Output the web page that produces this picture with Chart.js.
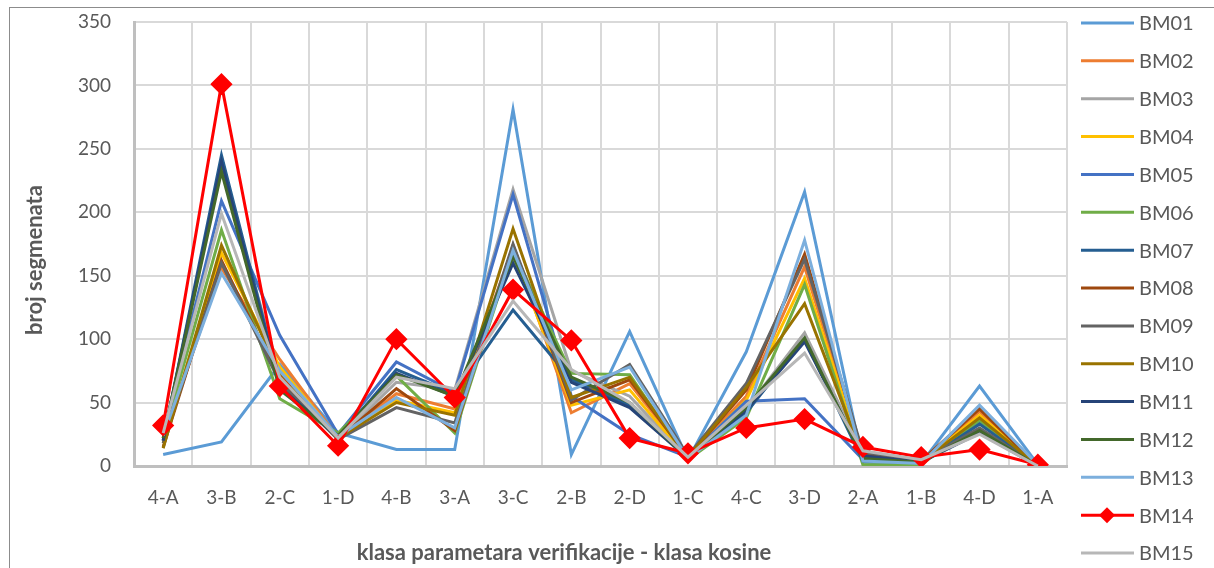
<!DOCTYPE html>
<html>
<head>
<meta charset="utf-8">
<script src="https://cdn.jsdelivr.net/npm/chart.js@4"></script>
<style>
  html, body { margin: 0; padding: 0; background: #fff; }
  #wrap { position: relative; width: 1214px; height: 568px; }
  #frame { position: absolute; left: 9px; top: 7px; right: -2px; bottom: -2px; border-left: 1px solid #8c8c8c; border-top: 1px solid #8c8c8c; }
  canvas { position: absolute; left: 0; top: 0; }
</style>
</head>
<body>
<div id="wrap">
  <div id="frame"></div>
  <canvas id="chart" width="1214" height="568"></canvas>
</div>
<script>
// categories and y ticks
const categories = ["4-A", "3-B", "2-C", "1-D", "4-B", "3-A", "3-C", "2-B", "2-D", "1-C", "4-C", "3-D", "2-A", "1-B", "4-D", "1-A"];
const yTicks = [0, 50, 100, 150, 200, 250, 300, 350];

// series values
const bm01 = [9, 19, 80, 26, 13, 13, 281, 9, 106, 5, 90, 216, 3, 2, 63, 1];
const bm02 = [20, 156, 84, 22, 57, 45, 172, 42, 65, 7, 55, 157, 8, 3, 43, 0];
const bm03 = [22, 236, 72, 21, 66, 60, 218, 75, 55, 6, 45, 105, 10, 4, 28, 0];
const bm04 = [18, 168, 78, 22, 52, 42, 168, 48, 60, 6, 52, 148, 6, 3, 40, 0];
const bm05 = [25, 209, 103, 25, 82, 58, 214, 55, 25, 7, 51, 53, 5, 2, 35, 1];
const bm06 = [22, 186, 53, 26, 71, 26, 170, 73, 72, 5, 38, 143, 1, 1, 36, 0];
const bm07 = [20, 245, 65, 22, 76, 57, 123, 68, 48, 7, 42, 100, 4, 3, 33, 0];
const bm08 = [15, 162, 68, 21, 61, 28, 174, 50, 68, 7, 60, 167, 9, 4, 45, 0];
const bm09 = [18, 160, 66, 21, 46, 34, 175, 52, 80, 8, 65, 163, 11, 4, 30, 0];
const bm10 = [14, 174, 72, 22, 50, 40, 187, 54, 70, 7, 62, 128, 7, 3, 38, 0];
const bm11 = [20, 240, 62, 23, 73, 55, 160, 66, 46, 6, 44, 98, 8, 3, 26, 0];
const bm12 = [22, 232, 60, 24, 72, 55, 165, 70, 50, 6, 46, 101, 6, 3, 28, 0];
const bm13 = [24, 152, 75, 23, 54, 30, 170, 60, 78, 6, 40, 178, 4, 2, 48, 1];
const bm14 = [32, 301, 63, 16, 100, 54, 139, 99, 22, 10, 30, 37, 15, 7, 13, 1];
const bm15 = [26, 199, 70, 22, 70, 61, 130, 76, 50, 7, 48, 89, 12, 5, 25, 0];

const seriesNames = ["BM01", "BM02", "BM03", "BM04", "BM05", "BM06", "BM07", "BM08", "BM09", "BM10", "BM11", "BM12", "BM13", "BM14", "BM15"];
const seriesData = [bm01, bm02, bm03, bm04, bm05, bm06, bm07, bm08, bm09, bm10, bm11, bm12, bm13, bm14, bm15];
const seriesColors = ["#5B9BD5", "#ED7D31", "#A5A5A5", "#FFC000", "#4472C4", "#70AD47", "#255E91", "#9E480E",
  "#636363", "#997300", "#264478", "#43682B", "#7CAFDD", "#FF0000", "#B7B7B7"];

const textColor = "#595959";
const fontFamily = "Lato, 'Open Sans', sans-serif";

let datasets = [];
for (let i = 0; i < seriesNames.length; i++) {
  let withMarker = seriesNames[i] === "BM14";
  datasets.push({
    label: seriesNames[i],
    data: seriesData[i],
    borderColor: seriesColors[i],
    backgroundColor: seriesColors[i],
    borderWidth: 3,
    pointStyle: "rectRot",
    pointRadius: withMarker ? 9 : 0,
    pointHoverRadius: withMarker ? 9 : 0,
    tension: 0,
    order: seriesNames.length - i, // later series on top, like Excel
  });
}

// legend drawn on the right side, lines with marker for BM14
const sideLegend = {
  id: "sideLegend",
  afterDraw: (chart) => {
    const { ctx } = chart;
    ctx.save();
    chart.data.datasets.forEach((ds, i) => {
      let y = 23 + i * 37.86;
      ctx.strokeStyle = ds.borderColor;
      ctx.lineWidth = 3;
      ctx.beginPath();
      ctx.moveTo(1081, y);
      ctx.lineTo(1134, y);
      ctx.stroke();
      if (ds.pointRadius > 0) {
        ctx.fillStyle = ds.backgroundColor;
        ctx.beginPath();
        ctx.moveTo(1107, y - 8);
        ctx.lineTo(1115, y);
        ctx.lineTo(1107, y + 8);
        ctx.lineTo(1099, y);
        ctx.closePath();
        ctx.fill();
      }
      ctx.fillStyle = textColor;
      ctx.font = "20px " + fontFamily;
      ctx.textBaseline = "middle";
      ctx.textAlign = "left";
      ctx.fillText(ds.label, 1139, y + 1);
    });
    ctx.restore();
  },
};

// axis titles
const axisTitles = {
  id: "axisTitles",
  afterDraw: (chart) => {
    const { ctx } = chart;
    ctx.save();
    ctx.fillStyle = textColor;
    ctx.font = "bold 22px " + fontFamily;
    ctx.textAlign = "center";
    ctx.textBaseline = "middle";
    ctx.fillText("klasa parametara verifikacije - klasa kosine", 564, 553);
    ctx.translate(35, 260);
    ctx.rotate(-Math.PI / 2);
    ctx.fillText("broj segmenata", 0, 0);
    ctx.restore();
  },
};

const ctx = document.getElementById("chart");
new Chart(ctx, {
  type: "line",
  data: {
    labels: categories,
    datasets: datasets,
  },
  options: {
    responsive: false,
    animation: false,
    layout: {
      padding: { left: 0, right: 147, top: 22, bottom: 0 },
    },
    scales: {
      x: {
        offset: true,
        grid: { offset: true, color: "#D9D9D9", lineWidth: 2, drawTicks: false },
        border: { color: "#BFBFBF", width: 3 },
        ticks: { color: textColor, font: { family: fontFamily, size: 19 }, padding: 20, maxRotation: 0, autoSkip: false },
        afterFit: (scale) => { scale.height = 102; },
      },
      y: {
        min: 0,
        max: 350,
        afterBuildTicks: (scale) => { scale.ticks = yTicks.map((v) => ({ value: v })); },
        grid: { color: "#D9D9D9", lineWidth: 2, drawTicks: false },
        border: { color: "#BFBFBF", width: 3 },
        ticks: { color: textColor, font: { family: fontFamily, size: 19 }, padding: 23 },
        afterFit: (scale) => {
          scale.width = 134;
          scale.paddingTop = 0;
          scale.paddingBottom = 0;
        },
      },
    },
    plugins: {
      legend: { display: false },
      tooltip: { enabled: false },
    },
  },
  plugins: [sideLegend, axisTitles],
});
</script>
</body>
</html>
